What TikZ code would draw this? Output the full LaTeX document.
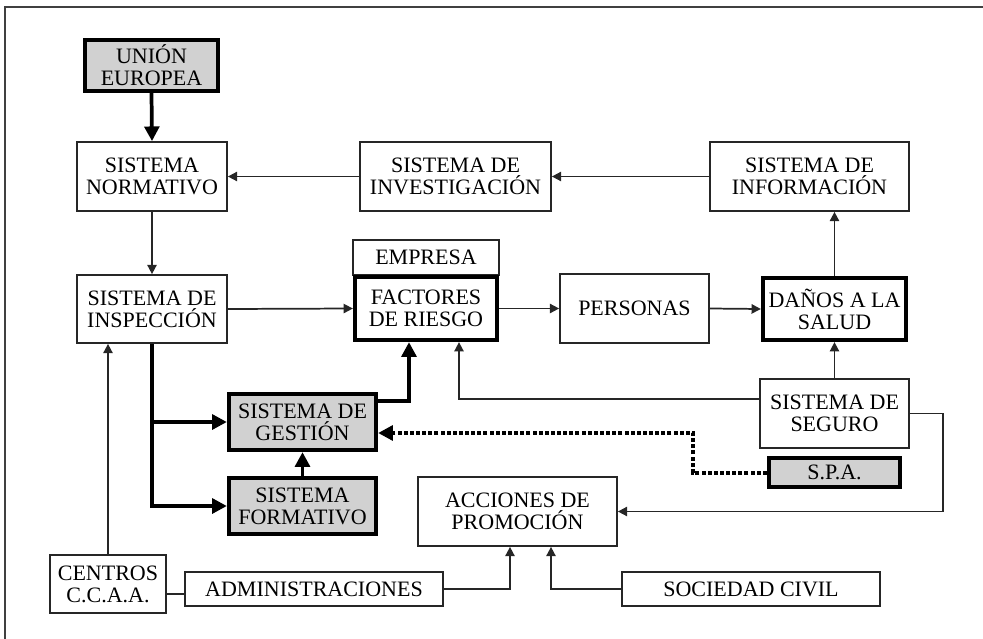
\documentclass[tikz,border=0pt]{standalone}
\usepackage{fontspec}
\setmainfont{Liberation Serif}
\usetikzlibrary{arrows.meta}
\begin{document}
\begin{tikzpicture}[x=0.75pt,y=-0.75pt,
  box/.style={draw=black!85, line width=1.3pt, fill=white, align=center, inner sep=0pt, font=\fontsize{16.5}{16.5}\selectfont},
  tbox/.style={box, draw=black, line width=3.2pt},
  gbox/.style={tbox, fill=black!18},
  sz/.style 2 args={minimum width=#1*0.75pt, minimum height=#2*0.75pt},
  ar/.style={draw=black!85, line width=1.3pt, -{Triangle[length=7pt,width=7pt]}},
  tar/.style={draw=black, line width=2.8pt, -{Triangle[length=11pt,width=11pt]}},
  dar/.style={draw=black, line width=3pt, dash pattern=on 3pt off 1.6pt, -{Triangle[length=11pt,width=11pt]}},
]
\useasboundingbox (0,0) rectangle (983,639);
\draw[line width=1.4pt, black!75] (5,7) rectangle (1010,660);

\node[gbox, sz={133}{51}] (ue) at (151.5,65.5) {UNIÓN\\EUROPEA};
\node[box, sz={150}{69}] (sn) at (152,176.5) {SISTEMA\\NORMATIVO};
\node[box, sz={191}{69}] (sinv) at (455.5,176.5) {SISTEMA DE\\INVESTIGACIÓN};
\node[box, sz={199}{69}] (sinf) at (809.5,176.5) {SISTEMA DE\\INFORMACIÓN};
\node[box, sz={146}{35}] (emp) at (426,257.5) {EMPRESA};
\node[tbox, sz={142}{63}] (fr) at (426,308.5) {FACTORES\\DE RIESGO};
\node[box, sz={149}{69}] (per) at (634.5,308.5) {PERSONAS};
\node[tbox, sz={143}{62}] (dan) at (834.5,309) {DAÑOS A LA\\SALUD};
\node[box, sz={150}{68}] (sinsp) at (152,309) {SISTEMA DE\\INSPECCIÓN};
\node[gbox, sz={147}{56}] (sg) at (302.5,422) {SISTEMA DE\\GESTIÓN};
\node[gbox, sz={147}{56}] (sf) at (302.5,506) {SISTEMA\\FORMATIVO};
\node[box, sz={116}{58}] (cen) at (108,584) {CENTROS\\C.C.A.A.};
\node[box, sz={258}{34}] (adm) at (314,589) {ADMINISTRACIONES};
\node[box, sz={199}{69}] (acc) at (517.5,511.5) {ACCIONES DE\\PROMOCIÓN};
\node[box, sz={258}{34}] (soc) at (751,589) {SOCIEDAD CIVIL};
\node[box, sz={149}{69}] (seg) at (834.5,413.5) {SISTEMA DE\\SEGURO};
\node[gbox, sz={131}{29}] (spa) at (834.5,472.5) {S.P.A.};

% connectors
\draw[tar] (ue.south) -- (sn.north);
\draw[ar] (sinv.west) -- (sn.east);
\draw[ar] (sinf.west) -- (sinv.east);
\draw[ar] (dan.north) -- (dan.north |- sinf.south);
\draw[ar] (sn.south) -- (sinsp.north);
\draw[ar] (sinsp.east) -- (fr.west);
\draw[ar] (fr.east) -- (per.west);
\draw[ar] (per.east) -- (dan.west);
\draw[ar] (seg.north) -- (dan.south);
\draw[ar] (seg.west |- 0,399) -- (459,399) -- (459,0 |- fr.south);
\draw[tar] (sg.east |- 0,401) -- (409,401) -- (409,0 |- fr.south);
\draw[tar] (sinsp.south) -- (sinsp.south |- sf.west) -- (sf.west);
\draw[tar] (sinsp.south |- sg.west) -- (sg.west);
\draw[tar] (sf.north) -- (sg.south);
\draw[dar] (spa.west) -- (693,0 |- spa.west) -- (693,433) -- (sg.east |- 0,433);
\draw[ar] (seg.east) -- (943,0 |- seg.east) -- (943,0 |- acc.east) -- (acc.east);
\draw[ar] (cen.north) -- (cen.north |- sinsp.south);
\draw[draw=black!85, line width=1.3pt] (cen.east |- 0,594) -- (adm.west |- 0,594);
\draw[ar] (adm.east) -- (510,0 |- adm.east) -- (510,0 |- acc.south);
\draw[ar] (soc.west) -- (551,0 |- soc.west) -- (551,0 |- acc.south);
\end{tikzpicture}
\end{document}
